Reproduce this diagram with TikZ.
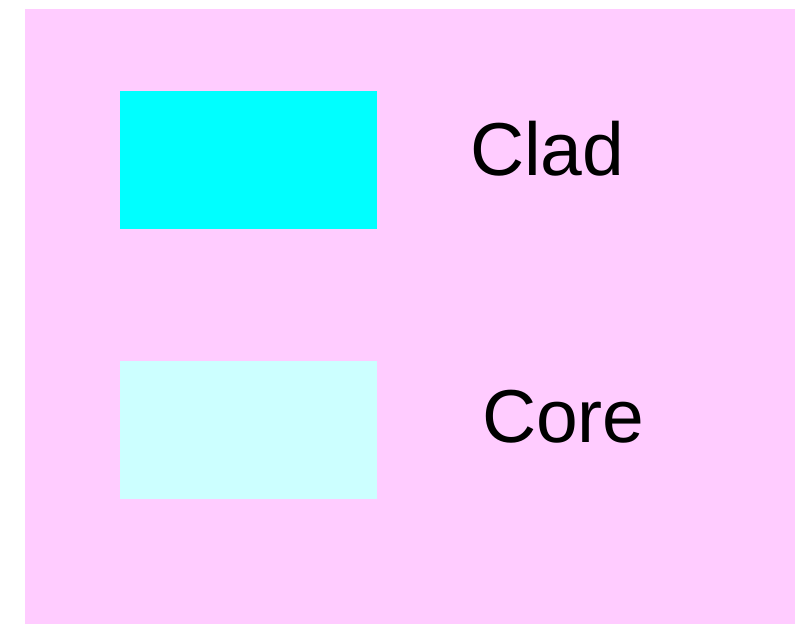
\documentclass[tikz,border=0pt]{standalone}
\usepackage{fontspec}
\setmainfont{Liberation Sans}
\definecolor{bgpink}{HTML}{FFCCFF}
\definecolor{clad}{HTML}{00FFFF}
\definecolor{core}{HTML}{CCFFFF}
\begin{document}
\begin{tikzpicture}[x=1pt,y=1pt,
  swatch/.style={inner sep=0pt, outer sep=0pt, minimum width=257pt, minimum height=138pt, anchor=north west},
  label/.style={inner sep=0pt, outer sep=0pt, anchor=base west, font=\fontsize{75}{82}\selectfont}]
\useasboundingbox (0,0) rectangle (795,624);
\fill[white] (0,0) rectangle (795,624);
\fill[bgpink] (25,0) rectangle (795,615);
\node[swatch, fill=clad] (cladbox) at (120,533) {};
\node[swatch, fill=core] (corebox) at (120,263) {};
\node[label] (cladtext) at (470,448) {Clad};
\node[label] (coretext) at (482,181) {Core};
\end{tikzpicture}
\end{document}
